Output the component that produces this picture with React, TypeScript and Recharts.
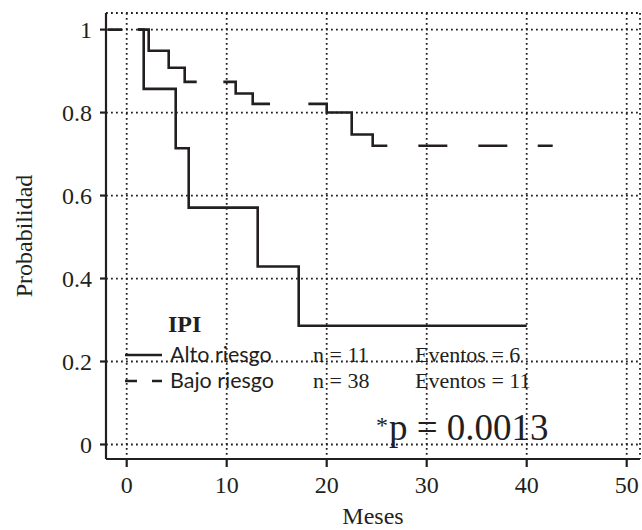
import { CartesianGrid, Line, LineChart, XAxis, YAxis } from 'recharts';

const INK = '#231f20';
const SERIF = '"Liberation Serif", "Times New Roman", serif';
const SANS = 'Lato, "Open Sans", sans-serif';

const X_TICKS = [0, 10, 20, 30, 40, 50];
const Y_TICKS = [0, 0.2, 0.4, 0.6, 0.8, 1];

// Kaplan-Meier steps (months, survival probability)
const ALTO_TIME = [1.1, 1.7, 4.9, 6.2, 13.1, 17.2, 40];
const ALTO_SURV = [1, 0.857, 0.714, 0.571, 0.429, 0.286, 0.286];

const BAJO_TIME = [-1.9, 2.2, 4.2, 5.8, 10.9, 12.6, 20.0, 22.5, 24.6, 42.6];
const BAJO_SURV = [1, 0.949, 0.908, 0.874, 0.846, 0.821, 0.8, 0.747, 0.72, 0.72];

const GROUPS = ['Alto riesgo', 'Bajo riesgo'];
const GROUP_N = [11, 38];
const GROUP_EVENTS = [6, 11];
const LEGEND_TITLE = 'IPI';
const P_VALUE = '0.0013';

// the dashed curve in the source has irregular dashes; this follows them along the path
const BAJO_DASH = '14.3 16 111 26.6 68.7 38.3 120.9 31 29 31 29 30.4 40';
const GRID_DASH = '1.8 3.2';

const alto = ALTO_TIME.map((t, i) => ({ t, s: ALTO_SURV[i] }));
const bajo = BAJO_TIME.map((t, i) => ({ t, s: BAJO_SURV[i] }));

function Legend() {
  return (
    <svg
      width={642}
      height={530}
      style={{ position: 'absolute', left: 0, top: 0, pointerEvents: 'none' }}
    >
      <text x={168} y={332} fontFamily={SERIF} fontWeight="bold" fontSize={24} fill={INK}>
        {LEGEND_TITLE}
      </text>
      {GROUPS.map((g, i) => {
        const base = 362 + i * 26;
        return (
          <g key={g}>
            <line
              x1={125}
              x2={162}
              y1={base - 7}
              y2={base - 7}
              stroke={INK}
              strokeWidth={2.6}
              strokeDasharray={i === 1 ? '12 15' : undefined}
            />
            <text x={170} y={base} fontFamily={SANS} fontSize={21.5} fill={INK}>
              {g}
            </text>
            <text x={313} y={base} fontFamily={SERIF} fontSize={22} fill={INK}>
              {`n = ${GROUP_N[i]}`}
            </text>
            <text x={415} y={base} fontFamily={SERIF} fontSize={22} fill={INK}>
              {`Eventos = ${GROUP_EVENTS[i]}`}
            </text>
          </g>
        );
      })}
      <text x={376} y={433} fontFamily={SERIF} fontSize={24} fill={INK}>
        *
      </text>
      <text x={389} y={440} fontFamily={SERIF} fontSize={37} fill={INK}>
        {`p = ${P_VALUE}`}
      </text>
    </svg>
  );
}

export default function App() {
  return (
    <div style={{ position: 'absolute', left: 0, top: 0, width: 642, height: 530, background: '#fff' }}>
      <LineChart width={642} height={530} margin={{ top: 13, right: 2, bottom: 0, left: 0 }}>
        <CartesianGrid stroke={INK} strokeWidth={1.8} strokeDasharray={GRID_DASH} />
        <XAxis
          type="number"
          dataKey="t"
          domain={[-2.07, 51.33]}
          ticks={X_TICKS}
          allowDataOverflow
          height={71}
          tickSize={8}
          tickMargin={9}
          axisLine={{ stroke: INK, strokeWidth: 2.2 }}
          tickLine={{ stroke: INK, strokeWidth: 2.2 }}
          tick={{ fill: INK, fontSize: 24, fontFamily: SERIF }}
          label={{
            value: 'Meses',
            position: 'insideBottom',
            offset: 6,
            fill: INK,
            fontSize: 24,
            fontFamily: SERIF,
          }}
        />
        <YAxis
          type="number"
          dataKey="s"
          domain={[-0.035, 1.04]}
          ticks={Y_TICKS}
          allowDataOverflow
          width={106}
          tickSize={6}
          tickMargin={8}
          tickFormatter={(v: number) => String(v)}
          axisLine={{ stroke: INK, strokeWidth: 2.2 }}
          tickLine={{ stroke: INK, strokeWidth: 2.2 }}
          tick={{ fill: INK, fontSize: 24, fontFamily: SERIF }}
          label={{
            value: 'Probabilidad',
            angle: -90,
            position: 'insideLeft',
            offset: 23,
            fill: INK,
            fontSize: 24,
            fontFamily: SERIF,
            style: { textAnchor: 'middle' },
          }}
        />
        <Line
          data={alto}
          dataKey="s"
          type="stepAfter"
          stroke={INK}
          strokeWidth={2.6}
          dot={false}
          activeDot={false}
          isAnimationActive={false}
        />
        <Line
          data={bajo}
          dataKey="s"
          type="stepAfter"
          stroke={INK}
          strokeWidth={2.6}
          strokeDasharray={BAJO_DASH}
          dot={false}
          activeDot={false}
          isAnimationActive={false}
        />
      </LineChart>
      <Legend />
    </div>
  );
}
